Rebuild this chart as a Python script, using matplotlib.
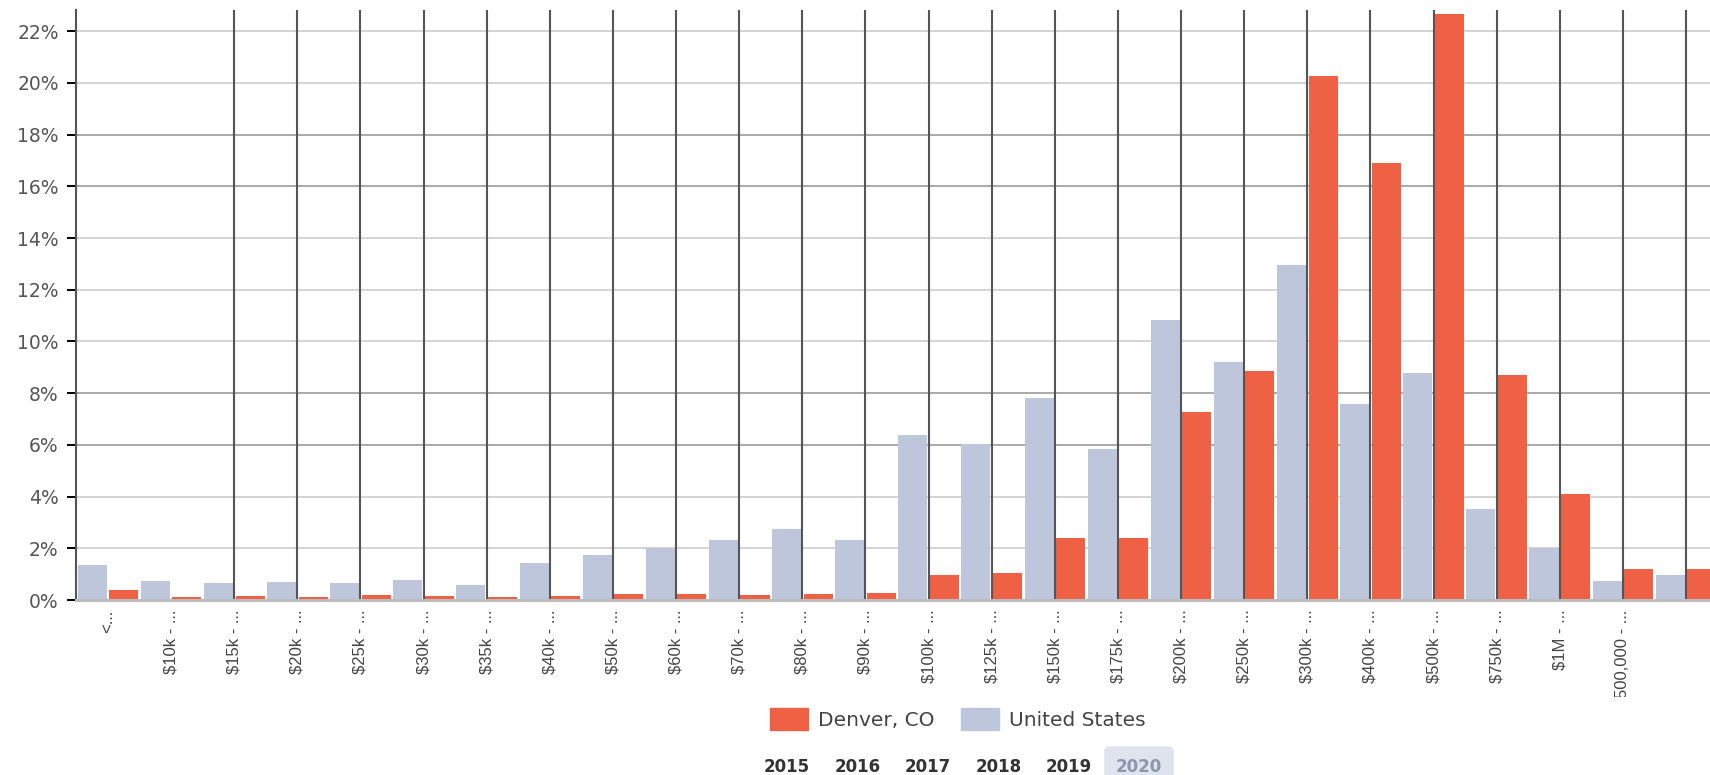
import numpy as np
import matplotlib.pyplot as plt
from matplotlib.patches import Patch
from matplotlib.transforms import Bbox

# home value brackets (last label not shown in the original)
brackets = ['<...', '$10k - ...', '$15k - ...', '$20k - ...', '$25k - ...', '$30k - ...',
            '$35k - ...', '$40k - ...', '$50k - ...', '$60k - ...', '$70k - ...', '$80k - ...',
            '$90k - ...', '$100k - ...', '$125k - ...', '$150k - ...', '$175k - ...',
            '$200k - ...', '$250k - ...', '$300k - ...', '$400k - ...', '$500k - ...',
            '$750k - ...', '$1M - ...', '$1,500,000 - ...', '']

us = [1.36, 0.72, 0.67, 0.71, 0.65, 0.76, 0.59, 1.45, 1.75, 2.0, 2.33, 2.75, 2.33,
      6.37, 6.04, 7.82, 5.83, 10.84, 9.2, 12.94, 7.6, 8.78, 3.53, 2.0, 0.74, 0.98]
denver = [0.39, 0.12, 0.14, 0.12, 0.2, 0.16, 0.12, 0.16, 0.22, 0.22, 0.18, 0.25, 0.27,
          0.97, 1.06, 2.38, 2.4, 7.26, 8.86, 20.27, 16.9, 22.68, 8.69, 4.1, 1.2, 1.2]

years = [2015, 2016, 2017, 2018, 2019, 2020]
selected_year = 2020

red = '#ee6145'
blue = '#bec6dc'

fig = plt.figure(figsize=(17.1, 7.75), dpi=100)
ax = fig.add_axes([76 / 1710, 175 / 775, 1 - 76 / 1710, 590 / 775])

x = np.arange(len(brackets))
ax.bar(x - 0.25, us, width=0.46, color=blue, zorder=2)
ax.bar(x + 0.25, denver, width=0.46, color=red, zorder=2)

ax.set_xlim(-0.507, 25.38)
ax.set_ylim(0, 22.82)

# dark vertical lines at the bracket centres (first two are missing in the original)
ax.vlines(x[2:], 0, 22.82, color='#555555', lw=1.5, zorder=3)

yticks = np.arange(0, 23, 2)
ax.set_yticks(yticks)
ax.set_yticklabels([f'{v}%' for v in yticks], fontsize=13.5, color='#555555')
ax.tick_params(axis='y', length=6.5, width=1.44, pad=6)
ax.yaxis.grid(True, lw=1.44, zorder=1)
ax.set_axisbelow(True)
for val, tick in zip(yticks, ax.yaxis.get_major_ticks()):
    c = '#ababab' if val in (6, 8, 16, 18) else '#d5d5d5'
    if val == 0:
        c = '#bdbdbd'
    tick.gridline.set_color(c)
    tick.tick1line.set_color(c)

ax.set_xticks(x)
ax.set_xticklabels(brackets, rotation=90, ha='center', va='top',
                   fontsize=12, family='Liberation Sans', color='#444444')
ax.tick_params(axis='x', length=0, pad=7)
clip = Bbox.from_extents(0, 775 - 697, 1710, 775)
for lab in ax.get_xticklabels():
    lab.set_clip_box(clip)
    lab.set_clip_on(True)

for s in ['top', 'right']:
    ax.spines[s].set_visible(False)
ax.spines['left'].set_color('#555555')
ax.spines['left'].set_linewidth(1.5)
ax.spines['bottom'].set_color('#bdbdbd')
ax.spines['bottom'].set_linewidth(2.2)
ax.spines['bottom'].set_zorder(4)

handles = [Patch(color=red, label='Denver, CO'), Patch(color=blue, label='United States')]
fig.legend(handles=handles, loc='center', bbox_to_anchor=(958 / 1710, 56 / 775), ncol=2,
           frameon=False, fontsize=14.5, labelcolor='#444444', handlelength=1.9,
           handleheight=1.3, handletextpad=0.5, columnspacing=1.3)

# year selector row
year_x = [787, 858, 928, 999, 1069, 1139]
for yr, px in zip(years, year_x):
    if yr == selected_year:
        fig.text(px / 1710, 8 / 775, str(yr), ha='center', va='center', fontsize=12,
                 fontweight='bold', color='#8d96ab',
                 bbox=dict(boxstyle='round,pad=0.7,rounding_size=0.3', fc='#dfe3ee', ec='none'))
    else:
        fig.text(px / 1710, 8 / 775, str(yr), ha='center', va='center', fontsize=12,
                 fontweight='bold', color='#333333')

fig.savefig('out.png', dpi=100)
